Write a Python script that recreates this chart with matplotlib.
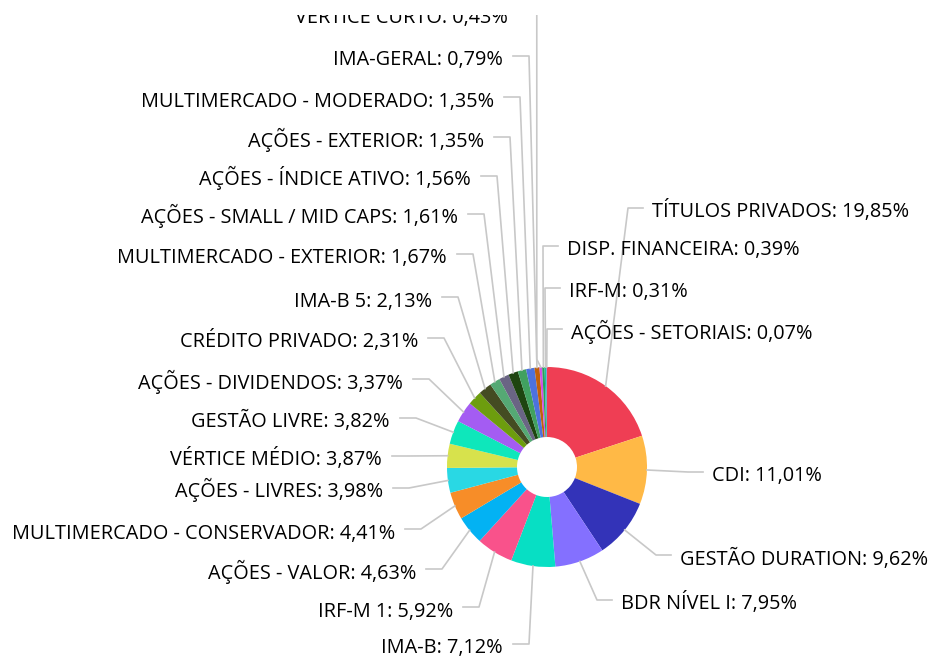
import numpy as np
import matplotlib.pyplot as plt
from matplotlib.patches import Rectangle

# allocation by segment (percent), in series order (clockwise from 12 o'clock)
names = ['TÍTULOS PRIVADOS', 'CDI', 'GESTÃO DURATION', 'BDR NÍVEL I', 'IMA-B',
         'IRF-M 1', 'AÇÕES - VALOR', 'MULTIMERCADO - CONSERVADOR', 'AÇÕES - LIVRES',
         'VÉRTICE MÉDIO', 'GESTÃO LIVRE', 'AÇÕES - DIVIDENDOS', 'CRÉDITO PRIVADO',
         'IMA-B 5', 'MULTIMERCADO - EXTERIOR', 'AÇÕES - SMALL / MID CAPS',
         'AÇÕES - ÍNDICE ATIVO', 'AÇÕES - EXTERIOR', 'MULTIMERCADO - MODERADO',
         'IMA-GERAL', 'VÉRTICE CURTO', 'DISP. FINANCEIRA', 'IRF-M', 'AÇÕES - SETORIAIS']
values = [19.85, 11.01, 9.62, 7.95, 7.12,
          5.92, 4.63, 4.41, 3.98,
          3.87, 3.82, 3.37, 2.31,
          2.13, 1.67, 1.61,
          1.56, 1.35, 1.35,
          0.79, 0.43, 0.39, 0.31, 0.07]
colors = ['#ef3e54', '#ffb946', '#3333b8', '#8470ff', '#07dfc4',
          '#f9528b', '#03b2f3', '#f78d28', '#29d8e4',
          '#d7e24c', '#0ee7bb', '#a45cf2', '#6d9d0e',
          '#444c22', '#55a974', '#6a6584',
          '#1e4510', '#41a160', '#4d72dd',
          '#c1600a', '#d34ee8', '#2c9e5a', '#17c79a', '#8b5cf6']

# label layout in pixels: (side, connector y, connector start x)
label_pos = [('R', 208, 643), ('R', 472, 703), ('R', 555, 671), ('R', 600, 612), ('L', 644, 513),
             ('L', 607, 463), ('L', 569, 426), ('L', 529, 405), ('L', 488, 393),
             ('L', 456, 392), ('L', 418, 400), ('L', 379, 413), ('L', 338, 428),
             ('L', 297, 442), ('L', 254, 457), ('L', 214, 468),
             ('L', 176, 481), ('L', 137, 494), ('L', 97, 504),
             ('L', 56, 513), ('T', 14, 518), ('R', 246, 558), ('R', 288, 560), ('R', 329, 562)]

W, H = 929, 658
cx, cy, R = 547, 467, 100

fig = plt.figure(figsize=(W / 100, H / 100), dpi=100)
ax = fig.add_axes([0, 0, 1, 1])

ax.pie(values, colors=colors, startangle=-90, counterclock=True, radius=R,
       center=(cx, cy), wedgeprops=dict(width=70, linewidth=0))
ax.set_xlim(0, W)
ax.set_ylim(H, 0)
ax.set_aspect('equal')
ax.axis('off')

clip = Rectangle((0, 15), W, H - 15, transform=ax.transData, visible=False)
ax.add_patch(clip)

frac = np.array(values) / sum(values)
mid = (np.cumsum(frac) - frac / 2) * 2 * np.pi
line_kw = dict(color='#c8c8c8', lw=1.2, zorder=1)
font = dict(family='Open Sans', fontsize=14.3, color='black')

for i, (side, ly, lx) in enumerate(label_pos):
    ex = cx + R * np.sin(mid[i])
    ey = cy - R * np.cos(mid[i])
    txt = names[i] + ': ' + f"{values[i]:.2f}".replace('.', ',') + '%'
    if side == 'L':
        ax.plot([lx, lx + 16, ex], [ly, ly, ey], **line_kw)
        t = ax.text(lx - 10, ly + 9.5, txt, ha='right', va='baseline', **font)
    elif side == 'R':
        ax.plot([lx, lx - 15, ex], [ly, ly, ey], **line_kw)
        t = ax.text(lx + 9, ly + 9.5, txt, ha='left', va='baseline', **font)
    else:
        # label pushed to the very top: connector runs straight up out of view
        ln, = ax.plot([ex - 4, ex - 4, ex], [0, ey - 8, ey], **line_kw)
        ln.set_clip_path(clip)
        t = ax.text(lx - 10, ly + 9.5, txt, ha='right', va='baseline', **font)
    t.set_clip_on(True)
    t.set_clip_path(clip)

fig.savefig('out.png', dpi=100)
